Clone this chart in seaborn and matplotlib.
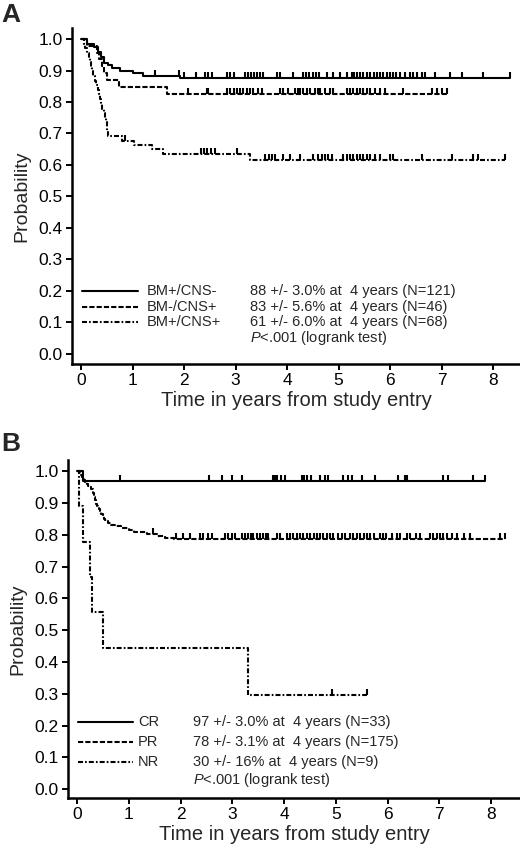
import numpy as np
import pandas as pd
import matplotlib
matplotlib.use("Agg")
import matplotlib.pyplot as plt
import seaborn as sns

sns.set_style("ticks")
plt.rcParams['font.family'] = ['Liberation Sans', 'DejaVu Sans']
plt.rcParams['mathtext.fontset'] = 'custom'
plt.rcParams['mathtext.it'] = 'Liberation Sans:italic'
plt.rcParams['mathtext.rm'] = 'Liberation Sans'

# ---------------- Panel A data ----------------
a_labels = ["BM+/CNS-", "BM-/CNS+", "BM+/CNS+"]
a_stats = ["88 +/- 3.0% at  4 years (N=121)",
           "83 +/- 5.6% at  4 years (N=46)",
           "61 +/- 6.0% at  4 years (N=68)"]

a1_t = [0, 0.12, 0.25, 0.33, 0.38, 0.45, 0.52, 0.60, 0.75, 1.00, 1.20, 1.92, 8.33]
a1_s = [1.0, 0.983, 0.975, 0.958, 0.942, 0.925, 0.917, 0.908, 0.900, 0.892, 0.884, 0.876, 0.876]
a1_c = [1.44, 1.91, 2.00, 2.23, 2.40, 2.47, 2.54, 2.83, 2.90, 2.96, 3.18, 3.24, 3.30,
        3.36, 3.42, 3.48, 3.53, 3.80, 3.86, 4.12, 4.31, 4.37, 4.43, 4.50, 4.56, 4.62,
        4.77, 4.89, 5.03, 5.16, 5.26, 5.30, 5.36, 5.42, 5.48, 5.55, 5.61, 5.68, 5.74,
        5.81, 5.87, 5.93, 6.00, 6.06, 6.12, 6.19, 6.29, 6.39, 6.45, 6.52, 6.62, 6.68,
        6.87, 7.17, 7.39, 7.81, 8.33]

a2_t = [0, 0.12, 0.31, 0.35, 0.41, 0.45, 0.50, 0.73, 1.67, 7.10]
a2_s = [1.0, 0.978, 0.957, 0.935, 0.913, 0.891, 0.870, 0.848, 0.826, 0.826]
a2_c = [2.08, 2.44, 2.47, 2.83, 2.89, 2.96, 3.02, 3.08, 3.15, 3.22, 3.28, 3.34, 3.44,
        3.51, 3.86, 3.92, 4.02, 4.16, 4.21, 4.25, 4.31, 4.38, 4.45, 4.54, 4.59, 4.64,
        4.74, 4.83, 4.90, 5.16, 5.22, 5.28, 5.35, 5.42, 5.48, 5.55, 5.61, 5.71, 5.81,
        5.90, 6.25, 6.81, 6.91, 7.00, 7.10]

a3_t = [0, 0.05, 0.08, 0.12, 0.15, 0.17, 0.19, 0.21, 0.24, 0.27, 0.30, 0.32, 0.35,
        0.37, 0.39, 0.41, 0.44, 0.47, 0.49, 0.50, 0.51, 0.53, 0.80, 1.02, 1.38, 1.60,
        3.28, 8.23]
a3_s = [1.0, 0.985, 0.971, 0.956, 0.941, 0.926, 0.912, 0.897, 0.882, 0.868, 0.853,
        0.838, 0.824, 0.809, 0.794, 0.779, 0.765, 0.750, 0.735, 0.721, 0.706, 0.691,
        0.676, 0.662, 0.650, 0.634, 0.617, 0.617]
a3_c = [0.86, 2.32, 2.38, 2.45, 2.52, 2.60, 3.02, 3.57, 3.64, 3.70, 3.77, 3.92, 4.06,
        4.25, 4.50, 4.60, 4.67, 4.74, 4.80, 4.87, 5.09, 5.16, 5.22, 5.28, 5.35, 5.42,
        5.48, 5.55, 5.61, 5.71, 5.81, 6.00, 6.06, 6.62, 7.20, 7.61, 7.71, 8.23]

# ---------------- Panel B data ----------------
b_labels = ["CR", "PR", "NR"]
b_stats = ["97 +/- 3.0% at  4 years (N=33)",
           "78 +/- 3.1% at  4 years (N=175)",
           "30 +/- 16% at  4 years (N=9)"]

b1_t = [0, 0.12, 7.88]
b1_s = [1.0, 0.970, 0.970]
b1_c = [0.83, 2.56, 2.80, 2.99, 3.18, 3.79, 3.83, 3.86, 3.95, 4.02, 4.34, 4.39, 4.44,
        4.53, 4.70, 4.79, 4.85, 5.14, 5.24, 5.31, 5.50, 5.76, 6.20, 6.33, 6.37, 7.07,
        7.17, 7.65, 7.88]

b2_t = [0, 0.05, 0.08, 0.10, 0.12, 0.14, 0.16, 0.19, 0.22, 0.25, 0.28, 0.30, 0.31,
        0.32, 0.33, 0.34, 0.35, 0.36, 0.37, 0.38, 0.40, 0.43, 0.45, 0.47, 0.50, 0.52,
        0.55, 0.60, 0.65, 0.75, 0.85, 1.00, 1.10, 1.35, 1.55, 1.70, 1.88, 8.27]
b2_s = [1.0, 0.994, 0.989, 0.983, 0.977, 0.971, 0.966, 0.960, 0.954, 0.949, 0.943,
        0.937, 0.931, 0.926, 0.920, 0.914, 0.909, 0.903, 0.897, 0.891, 0.886, 0.880,
        0.874, 0.866, 0.858, 0.851, 0.845, 0.838, 0.832, 0.826, 0.820, 0.814, 0.808,
        0.803, 0.797, 0.791, 0.785, 0.785]
b2_c = [1.47, 1.92, 2.05, 2.18, 2.37, 2.43, 2.53, 2.60, 2.86, 2.92, 2.99, 3.05, 3.18,
        3.24, 3.30, 3.37, 3.41, 3.47, 3.53, 3.60, 3.66, 3.70, 3.86, 3.92, 4.05, 4.11,
        4.18, 4.25, 4.31, 4.37, 4.44, 4.50, 4.57, 4.63, 4.70, 4.76, 4.83, 4.89, 4.95,
        5.05, 5.12, 5.18, 5.28, 5.34, 5.41, 5.47, 5.54, 5.60, 5.66, 5.73, 5.86, 5.92,
        5.98, 6.08, 6.18, 6.24, 6.37, 6.43, 6.56, 6.63, 6.82, 6.88, 6.95, 7.01, 7.08,
        7.14, 7.24, 7.34, 7.47, 7.59, 8.17, 8.27]

b3_t = [0, 0.03, 0.12, 0.245, 0.29, 0.51, 3.30, 5.60]
b3_s = [1.0, 0.889, 0.778, 0.667, 0.556, 0.444, 0.296, 0.296]
b3_c = [4.92, 5.60]

yticks = [0.0, 0.1, 0.2, 0.3, 0.4, 0.5, 0.6, 0.7, 0.8, 0.9, 1.0]
xticks = [0, 1, 2, 3, 4, 5, 6, 7, 8]

STYLES = ['-', (0, (2.5, 1.0)), (0, (2.4, 1.0, 0.8, 1.0))]
LW = 1.5
TICK_MARK = [(0, 0), (0, 1)]


def step_val(ts, ss, x):
    idx = np.searchsorted(np.asarray(ts), x, side='right') - 1
    return np.asarray(ss)[idx]


def draw_panel(ax, curves, labels, stats, xlim, ylim, leg):
    for (t, s, c), ls in zip(curves, STYLES):
        df = pd.DataFrame({'t': t, 's': s})
        sns.lineplot(data=df, x='t', y='s', ax=ax, drawstyle='steps-post',
                     estimator=None, sort=False, color='black', linewidth=LW,
                     linestyle=ls)
        cdf = pd.DataFrame({'t': c, 's': step_val(t, s, c)})
        sns.scatterplot(data=cdf, x='t', y='s', ax=ax, marker=TICK_MARK, s=80,
                        color='black', edgecolor='black', linewidth=1.5, zorder=3)
    ax.set_xlim(*xlim)
    ax.set_ylim(*ylim)
    ax.set_xticks(xticks)
    ax.set_yticks(yticks)
    ax.set_yticklabels([f"{v:.1f}" for v in yticks])
    ax.tick_params(axis='both', labelsize=12.5, length=4.5, width=1.4, pad=2,
                   color='black', labelcolor='black')
    for sp in ['left', 'bottom']:
        ax.spines[sp].set_linewidth(1.8)
        ax.spines[sp].set_color('black')
    sns.despine(ax=ax)
    ax.set_xlabel("Time in years from study entry", fontsize=14.5, labelpad=2)
    ax.set_ylabel("Probability", fontsize=14, labelpad=6)
    # legend block
    x0, x1, xl, xs, rows = leg
    for i, ls in enumerate(STYLES):
        ax.plot([x0, x1], [rows[i], rows[i]], color='black', linewidth=LW, linestyle=ls)
        ax.text(xl, rows[i], labels[i], fontsize=10.5, va='center', ha='left')
        ax.text(xs, rows[i], stats[i], fontsize=10.5, va='center', ha='left')
    ax.text(xs, rows[3], r"$\it{P}$<.001 (logrank test)", fontsize=10.5,
            va='center', ha='left')


fig = plt.figure(figsize=(5.2, 8.47), dpi=100)
axA = fig.add_axes([72 / 520, 1 - 364 / 847, 1 - 72 / 520, (364 - 28) / 847])
axB = fig.add_axes([68 / 520, 1 - 798 / 847, 1 - 68 / 520, (798 - 460) / 847])

draw_panel(axA, [(a1_t, a1_s, a1_c), (a2_t, a2_s, a2_c), (a3_t, a3_s, a3_c)],
           a_labels, a_stats, (-0.175, 8.52), (-0.032, 1.035),
           (0.02, 1.11, 1.28, 3.28, [0.201, 0.150, 0.100, 0.050]))
draw_panel(axB, [(b1_t, b1_s, b1_c), (b2_t, b2_s, b2_c), (b3_t, b3_s, b3_c)],
           b_labels, b_stats, (-0.174, 8.56), (-0.028, 1.035),
           (0.02, 1.08, 1.18, 2.24, [0.212, 0.149, 0.086, 0.028]))

fig.text(0.002, 1 - 3 / 847, "A", fontsize=19, fontweight='bold', va='top', ha='left')
fig.text(0.002, 1 - 432 / 847, "B", fontsize=19, fontweight='bold', va='top', ha='left')

fig.savefig("out.png", dpi=100)
